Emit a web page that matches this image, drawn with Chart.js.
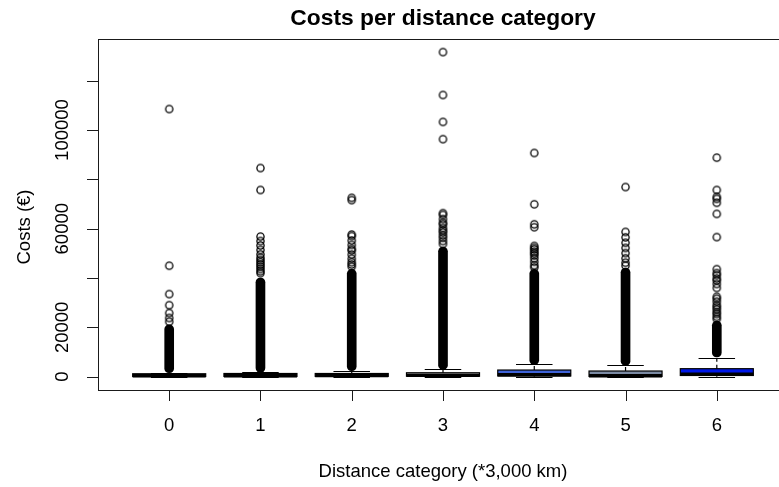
<!DOCTYPE html>
<html>
<head>
<meta charset="utf-8">
<script src="https://cdn.jsdelivr.net/npm/chart.js@4.4.0/dist/chart.umd.min.js"></script>
<style>
  html, body { margin: 0; padding: 0; overflow: hidden; background: #fff; }
  canvas { display: block; }
</style>
</head>
<body>
<canvas id="chartCostes" width="800" height="487"></canvas>
<script>
// distance categories (*3,000 km)
const categories = ['0', '1', '2', '3', '4', '5', '6'];

// box statistics per category, in euros
const whiskerLow = [0, 0, 0, 0, 0, 0, 0];
const quartile1 = [100, 100, 150, 200, 300, 100, 500];
const medians = [400, 400, 450, 600, 800, 350, 1000];
const quartile3 = [1200, 1300, 1300, 1600, 2700, 2300, 3250];
const whiskerHigh = [1600, 1800, 2400, 3000, 5000, 4600, 7400];
const boxColors = ['#ffffff', '#ffffff', '#ffffff', '#ffffff', '#3f63d8', '#7b8aa3', '#0018e8'];

// outliers that are so many they merge into a black column
const denseLow = [1600, 1800, 2400, 3000, 5000, 4600, 8000];
const denseHigh = [21000, 40000, 43500, 52500, 43500, 44000, 22500];

// outliers that can be told apart
const outliers = [
  [108500, 45000, 33500, 29000, 25800, 23800, 22300],
  [84600, 75700, 56800, 55000, 53200, 51400, 49600, 48200, 47300, 46400, 45500, 44600, 43700, 42800, 42000],
  [72500, 71600, 57600, 57000, 55200, 53400, 51800, 51200, 49500, 47800, 46400, 45500, 44600],
  [131600, 114200, 103300, 96300, 66300, 65600, 63900, 62400, 61800, 60300, 59300, 58500, 57300, 56300, 55000, 53800],
  [90700, 69900, 61800, 60600, 53000, 52200, 51600, 50700, 50000, 49200, 48000, 46600, 45200, 44300],
  [76900, 58700, 56500, 54300, 52200, 50100, 48000, 46200, 45000],
  [88800, 75700, 72900, 72100, 70500, 66000, 56600, 43600, 42000, 41200, 39800, 39000, 37600, 36000,
    32400, 31600, 30400, 29000, 28200, 27300, 26200, 25400, 24300, 23400]
];

const yTicks = [0, 20000, 40000, 60000, 80000, 100000, 120000];
const yTickLabels = ['0', '20000', '', '60000', '', '100000', ''];

const FONT = '"Liberation Sans", Arial, sans-serif';

// open circle like R's pch = 1
const circleMark = document.createElement('canvas');
circleMark.width = 11;
circleMark.height = 11;
const cm = circleMark.getContext('2d');
cm.strokeStyle = '#000';
cm.lineWidth = 1.3;
cm.beginPath();
cm.arc(5.5, 5.5, 3.6, 0, Math.PI * 2);
cm.stroke();

const outlierPoints = [];
outliers.forEach((list, i) => {
  list.forEach(v => outlierPoints.push({ x: i, y: v }));
});
const densePoints = categories.map((c, i) => ({ x: i, y: [denseLow[i], denseHigh[i]] }));

const boxesPlugin = {
  id: 'boxes',
  beforeDatasetsDraw(chart) {
    const { ctx, scales: { x, y } } = chart;
    ctx.save();
    categories.forEach((c, i) => {
      const cx = x.getPixelForValue(i);
      const half = x.getPixelForValue(i + 0.4) - cx;
      const staple = half / 2;
      const top = y.getPixelForValue(quartile3[i]);
      const bottom = y.getPixelForValue(quartile1[i]);

      // box
      ctx.fillStyle = boxColors[i];
      ctx.fillRect(cx - half, top, half * 2, bottom - top);
      ctx.strokeStyle = '#000';
      ctx.lineWidth = 1.2;
      ctx.strokeRect(cx - half, top, half * 2, bottom - top);

      // whiskers
      ctx.setLineDash([4, 3]);
      ctx.beginPath();
      ctx.moveTo(cx, top);
      ctx.lineTo(cx, y.getPixelForValue(whiskerHigh[i]));
      ctx.moveTo(cx, bottom);
      ctx.lineTo(cx, y.getPixelForValue(whiskerLow[i]));
      ctx.stroke();
      ctx.setLineDash([]);

      // staples
      ctx.lineWidth = 1;
      ctx.beginPath();
      [whiskerHigh[i], whiskerLow[i]].forEach(v => {
        const py = Math.round(y.getPixelForValue(v)) + 0.5;
        ctx.moveTo(cx - staple, py);
        ctx.lineTo(cx + staple, py);
      });
      ctx.stroke();

      // median
      ctx.lineWidth = 3.5;
      ctx.beginPath();
      ctx.moveTo(cx - half, y.getPixelForValue(medians[i]));
      ctx.lineTo(cx + half, y.getPixelForValue(medians[i]));
      ctx.stroke();
    });
    ctx.restore();
  }
};

const framePlugin = {
  id: 'frame',
  afterDraw(chart) {
    const { ctx, chartArea: area, scales: { x, y } } = chart;
    ctx.save();
    ctx.strokeStyle = '#1a1a1a';
    ctx.lineWidth = 1;
    ctx.strokeRect(area.left + 0.5, area.top + 0.5, area.right - area.left, area.bottom - area.top);

    ctx.fillStyle = '#000';
    ctx.font = '18.5px ' + FONT;
    ctx.textAlign = 'center';
    ctx.textBaseline = 'alphabetic';

    // x axis
    ctx.beginPath();
    categories.forEach((c, i) => {
      const px = Math.round(x.getPixelForValue(i)) + 0.5;
      ctx.moveTo(px, area.bottom);
      ctx.lineTo(px, area.bottom + 11);
    });
    ctx.stroke();
    categories.forEach((c, i) => {
      ctx.fillText(c, x.getPixelForValue(i), 431);
    });

    // y axis
    ctx.beginPath();
    yTicks.forEach(v => {
      const py = Math.round(y.getPixelForValue(v)) + 0.5;
      ctx.moveTo(area.left - 11, py);
      ctx.lineTo(area.left, py);
    });
    ctx.stroke();
    yTicks.forEach((v, i) => {
      if (!yTickLabels[i]) return;
      ctx.save();
      ctx.translate(68, y.getPixelForValue(v));
      ctx.rotate(-Math.PI / 2);
      ctx.fillText(yTickLabels[i], 0, 0);
      ctx.restore();
    });

    // axis titles
    ctx.fillText('Distance category (*3,000 km)', (area.left + area.right) / 2, 477);
    ctx.save();
    ctx.translate(30, 227);
    ctx.rotate(-Math.PI / 2);
    ctx.fillText('Costs (€)', 0, 0);
    ctx.restore();

    // main title
    ctx.font = 'bold 22.8px ' + FONT;
    ctx.fillText('Costs per distance category', (area.left + area.right) / 2, 25);
    ctx.restore();
  }
};

new Chart(document.getElementById('chartCostes'), {
  type: 'scatter',
  data: {
    datasets: [
      {
        type: 'scatter',
        data: outlierPoints,
        pointStyle: circleMark,
        pointRadius: 4,
        pointHoverRadius: 4
      },
      {
        type: 'bar',
        data: densePoints,
        backgroundColor: '#000',
        barThickness: 9,
        borderRadius: 4.5,
        borderSkipped: false
      }
    ]
  },
  options: {
    responsive: false,
    animation: false,
    events: [],
    layout: { padding: { left: 98, top: 39, right: 12, bottom: 97 } },
    plugins: {
      legend: { display: false },
      tooltip: { enabled: false },
      title: { display: false }
    },
    scales: {
      x: { type: 'linear', min: -0.78, max: 6.78, offset: false, display: false },
      y: { type: 'linear', min: -5390, max: 136900, display: false }
    }
  },
  plugins: [boxesPlugin, framePlugin]
});
</script>
</body>
</html>
